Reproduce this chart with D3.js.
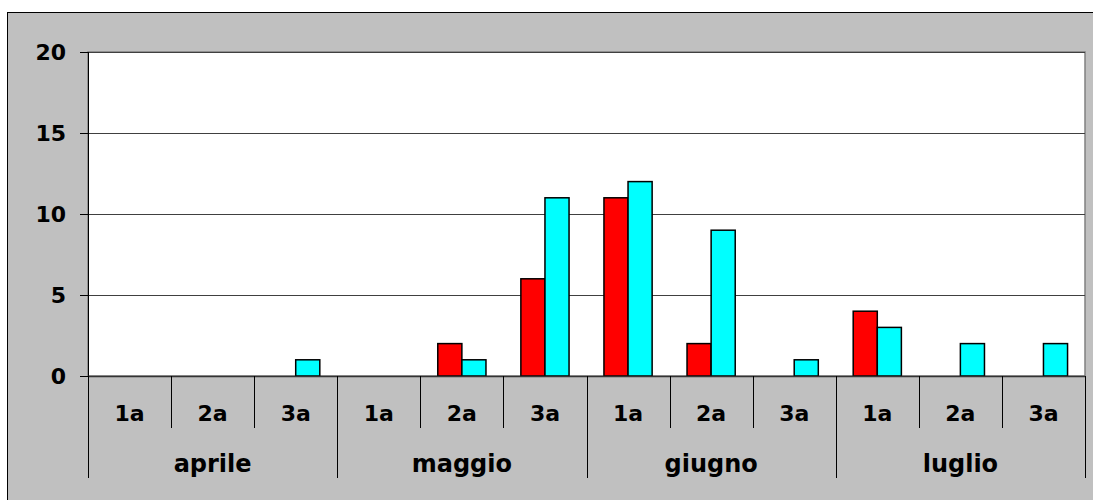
<!DOCTYPE html>
<html>
<head>
<meta charset="utf-8">
<script src="https://cdn.jsdelivr.net/npm/d3@7"></script>
<style>
    body { margin: 0; background: #fff; }
    svg text { font-family: "DejaVu Sans", Verdana, sans-serif; font-weight: bold; fill: #000; }
</style>
</head>
<body>
<div id="chart"></div>
<script>
// dati
const mesi = ['aprile', 'maggio', 'giugno', 'luglio'];
const decadi = ['1a', '2a', '3a'];
const serieRossa = [0, 0, 0, 0, 2, 6, 11, 2, 0, 4, 0, 0];
const serieAzzurra = [0, 0, 1, 0, 1, 11, 12, 9, 1, 3, 2, 2];
const yTicks = [0, 5, 10, 15, 20];

const width = 1093, height = 500;
const plot = { left: 88, right: 1085, top: 52, bottom: 376 };

// categorie: mese + decade
const categorie = [];
mesi.forEach(m => decadi.forEach(d => categorie.push(m + '|' + d)));

const svg = d3.select('#chart').append('svg')
    .attr('width', width)
    .attr('height', height);

// sfondo grigio con bordo
svg.append('rect')
    .attr('x', 7.5).attr('y', 12.5)
    .attr('width', width + 10).attr('height', height + 10)
    .attr('fill', '#c0c0c0')
    .attr('stroke', '#000')
    .attr('stroke-width', 1);

// area del grafico
svg.append('rect')
    .attr('x', plot.left).attr('y', plot.top)
    .attr('width', plot.right - plot.left)
    .attr('height', plot.bottom - plot.top)
    .attr('fill', '#fff')
    .attr('stroke', '#808080')
    .attr('stroke-width', 1.5);

const x0 = d3.scaleBand()
    .domain(categorie)
    .range([plot.left, plot.right]);

const x1 = d3.scaleBand()
    .domain(['rosso', 'azzurro'])
    .range([x0.bandwidth() * 0.21, x0.bandwidth() * 0.79]);

const y = d3.scaleLinear()
    .domain([0, 20])
    .range([plot.bottom, plot.top]);

// griglia
svg.append('g')
    .selectAll('line')
    .data(yTicks.filter(t => t > 0))
    .enter().append('line')
    .attr('x1', plot.left).attr('x2', plot.right)
    .attr('y1', d => Math.round(y(d)) + 0.5)
    .attr('y2', d => Math.round(y(d)) + 0.5)
    .attr('stroke', '#404040')
    .attr('stroke-width', 1);

// barre
const serie = [
    { key: 'rosso', values: serieRossa, color: '#ff0000' },
    { key: 'azzurro', values: serieAzzurra, color: '#00ffff' }
];

serie.forEach(s => {
    svg.append('g')
        .selectAll('rect')
        .data(s.values.map((v, i) => ({ cat: categorie[i], v: v })).filter(d => d.v > 0))
        .enter().append('rect')
        .attr('x', d => x0(d.cat) + x1(s.key))
        .attr('y', d => y(d.v))
        .attr('width', x1.bandwidth())
        .attr('height', d => y(0) - y(d.v))
        .attr('fill', s.color)
        .attr('stroke', '#000')
        .attr('stroke-width', 1.5);
});

// asse Y
const yAxis = svg.append('g')
    .attr('transform', `translate(${plot.left},0)`)
    .call(d3.axisLeft(y).tickValues(yTicks).tickSize(8).tickPadding(14));
yAxis.select('.domain').remove();
yAxis.selectAll('.tick line').attr('stroke', '#000');
yAxis.selectAll('.tick text')
    .style('font-size', '22px')
    .attr('dy', '0.36em');

svg.append('line')
    .attr('x1', plot.left + 0.5).attr('x2', plot.left + 0.5)
    .attr('y1', plot.top).attr('y2', plot.bottom)
    .attr('stroke', '#000');

// asse X
svg.append('line')
    .attr('x1', plot.left).attr('x2', plot.right)
    .attr('y1', plot.bottom + 0.5).attr('y2', plot.bottom + 0.5)
    .attr('stroke', '#333')
    .attr('stroke-width', 1.5);

// separatori
const separatori = d3.range(categorie.length + 1);
svg.append('g')
    .selectAll('line')
    .data(separatori)
    .enter().append('line')
    .attr('x1', i => Math.round(plot.left + i * x0.step()) + 0.5)
    .attr('x2', i => Math.round(plot.left + i * x0.step()) + 0.5)
    .attr('y1', plot.bottom)
    .attr('y2', i => i % 3 === 0 ? 478 : 428)
    .attr('stroke', '#000')
    .attr('stroke-width', 1);

// etichette decadi
svg.append('g')
    .selectAll('text')
    .data(categorie)
    .enter().append('text')
    .attr('x', d => x0(d) + x0.bandwidth() / 2)
    .attr('y', 421)
    .attr('text-anchor', 'middle')
    .style('font-size', '22px')
    .text(d => d.split('|')[1]);

// etichette mesi
svg.append('g')
    .selectAll('text')
    .data(mesi)
    .enter().append('text')
    .attr('x', m => x0(m + '|1a') + x0.step() * 1.5)
    .attr('y', 472)
    .attr('text-anchor', 'middle')
    .style('font-size', '24px')
    .text(m => m);
</script>
</body>
</html>
